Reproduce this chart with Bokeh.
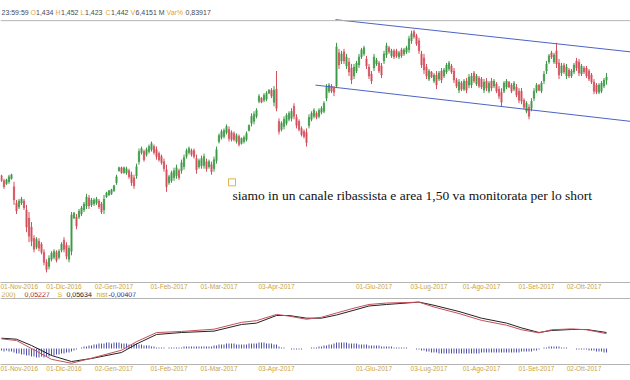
from bokeh.plotting import figure
from bokeh.models import ColumnDataSource, Range1d, FixedTicker, Label, Span
from bokeh.layouts import column
from bokeh.embed import file_html
from bokeh.resources import INLINE

# ---------------- data (daily candles, Nov 2016 - Oct 2017) ----------------
opens = [
    1.197, 1.1845, 1.177, 1.182, 1.1895, 1.1695, 1.1295, 1.1195, 1.1295, 1.1345,
    1.112, 1.092, 1.0695, 1.042, 1.0195, 1.0345, 1.027, 1.007, 0.982, 0.972,
    0.9895, 0.9945, 1.007, 0.9945, 1.012, 1.037, 1.0245, 0.9895, 1.0095, 1.092,
    1.0945, 1.0945, 1.102, 1.112, 1.122, 1.142, 1.1245, 1.127, 1.1295, 1.1345,
    1.127, 1.112, 1.1445, 1.1495, 1.152, 1.1595, 1.1795, 1.2095, 1.217, 1.2045,
    1.2045, 1.2095, 1.1995, 1.192, 1.197, 1.232, 1.2545, 1.257, 1.2495, 1.257,
    1.262, 1.2695, 1.262, 1.252, 1.2445, 1.232, 1.212, 1.1795, 1.1845, 1.192,
    1.197, 1.2095, 1.2095, 1.2195, 1.2445, 1.2545, 1.2595, 1.2595, 1.2395, 1.2195,
    1.222, 1.222, 1.232, 1.2195, 1.2245, 1.2145, 1.2345, 1.282, 1.292, 1.2945,
    1.3045, 1.312, 1.3045, 1.302, 1.282, 1.2945, 1.277, 1.282, 1.287, 1.3095,
    1.327, 1.332, 1.3445, 1.382, 1.3895, 1.3845, 1.387, 1.402, 1.4095, 1.3795,
    1.412, 1.332, 1.312, 1.3195, 1.327, 1.337, 1.3395, 1.3695, 1.342, 1.332,
    1.3145, 1.307, 1.3045, 1.322, 1.337, 1.3445, 1.352, 1.3445, 1.3545, 1.357,
    1.3895, 1.407, 1.4195, 1.4145, 1.4195, 1.502, 1.482, 1.5045, 1.4695, 1.4795,
    1.4645, 1.4445, 1.457, 1.472, 1.492, 1.4995, 1.487, 1.467, 1.4495, 1.4645,
    1.4745, 1.477, 1.4695, 1.482, 1.497, 1.5145, 1.4945, 1.507, 1.507, 1.492,
    1.5095, 1.4995, 1.5045, 1.5095, 1.532, 1.5545, 1.5445, 1.532, 1.4995, 1.4895,
    1.467, 1.437, 1.4545, 1.432, 1.447, 1.437, 1.457, 1.4445, 1.4545, 1.462,
    1.4695, 1.457, 1.4345, 1.4095, 1.427, 1.412, 1.432, 1.422, 1.422, 1.452,
    1.4245, 1.4395, 1.437, 1.4095, 1.432, 1.407, 1.432, 1.4195, 1.4245, 1.412,
    1.4045, 1.407, 1.417, 1.4295, 1.422, 1.412, 1.417, 1.407, 1.407, 1.3845,
    1.357, 1.367, 1.3645, 1.3895, 1.407, 1.422, 1.407, 1.432, 1.457, 1.4795,
    1.502, 1.4795, 1.507, 1.477, 1.452, 1.472, 1.4445, 1.4595, 1.4445, 1.4545,
    1.482, 1.4795, 1.4495, 1.4645, 1.4645, 1.457, 1.447, 1.4295, 1.422, 1.4045,
    1.407, 1.4195, 1.434,
]
highs = [
    1.1995, 1.1895, 1.1895, 1.1995, 1.202, 1.182, 1.137, 1.1395, 1.1445, 1.1395,
    1.1245, 1.107, 1.082, 1.0495, 1.0445, 1.042, 1.032, 1.0145, 0.9895, 0.9995,
    1.0095, 1.0145, 1.012, 1.0145, 1.032, 1.0445, 1.032, 1.0245, 1.107, 1.107,
    1.102, 1.1145, 1.122, 1.132, 1.152, 1.1495, 1.142, 1.142, 1.1445, 1.1395,
    1.132, 1.1495, 1.157, 1.162, 1.1645, 1.1745, 1.1995, 1.2195, 1.2195, 1.2195,
    1.2195, 1.2145, 1.207, 1.1995, 1.227, 1.2645, 1.2695, 1.262, 1.267, 1.2745,
    1.282, 1.2745, 1.2695, 1.257, 1.2495, 1.2395, 1.2245, 1.1995, 1.2095, 1.217,
    1.2245, 1.2145, 1.237, 1.2495, 1.2645, 1.2695, 1.2645, 1.2645, 1.2495, 1.2395,
    1.247, 1.252, 1.2395, 1.237, 1.232, 1.2445, 1.2695, 1.302, 1.312, 1.3145,
    1.3245, 1.3195, 1.3095, 1.307, 1.302, 1.2995, 1.292, 1.297, 1.307, 1.3245,
    1.352, 1.357, 1.3645, 1.3995, 1.392, 1.402, 1.407, 1.412, 1.4145, 1.4195,
    1.457, 1.3395, 1.332, 1.3445, 1.352, 1.357, 1.3645, 1.377, 1.3495, 1.337,
    1.3195, 1.312, 1.3145, 1.3495, 1.357, 1.3645, 1.357, 1.3645, 1.3695, 1.382,
    1.4245, 1.427, 1.4245, 1.4195, 1.527, 1.512, 1.507, 1.512, 1.4995, 1.4895,
    1.4745, 1.4745, 1.482, 1.4995, 1.5145, 1.5195, 1.4945, 1.4745, 1.457, 1.4995,
    1.4895, 1.482, 1.477, 1.507, 1.527, 1.5195, 1.512, 1.512, 1.512, 1.507,
    1.5145, 1.5145, 1.5195, 1.5445, 1.557, 1.5595, 1.5495, 1.5395, 1.507, 1.4995,
    1.4745, 1.462, 1.457, 1.452, 1.457, 1.457, 1.4645, 1.4645, 1.477, 1.482,
    1.4745, 1.4645, 1.4395, 1.437, 1.432, 1.437, 1.4395, 1.4495, 1.452, 1.457,
    1.4495, 1.4445, 1.442, 1.437, 1.4395, 1.432, 1.4395, 1.437, 1.4295, 1.4195,
    1.4145, 1.432, 1.437, 1.432, 1.427, 1.432, 1.4245, 1.4145, 1.4145, 1.3895,
    1.382, 1.3745, 1.3895, 1.4145, 1.427, 1.4245, 1.432, 1.457, 1.482, 1.4995,
    1.507, 1.502, 1.527, 1.487, 1.477, 1.477, 1.4745, 1.4645, 1.462, 1.477,
    1.4895, 1.487, 1.4745, 1.4695, 1.4695, 1.462, 1.452, 1.437, 1.427, 1.427,
    1.432, 1.4395, 1.452,
]
lows = [
    1.182, 1.1645, 1.1745, 1.177, 1.1875, 1.1245, 1.102, 1.1145, 1.1245, 1.112,
    1.057, 1.032, 1.022, 1.007, 1.0145, 1.0095, 1.002, 0.9745, 0.957, 0.9645,
    0.9845, 0.9895, 0.982, 0.9895, 1.007, 1.007, 0.9895, 0.982, 0.9995, 1.0895,
    1.064, 1.0895, 1.097, 1.107, 1.1145, 1.1145, 1.1195, 1.122, 1.1245, 1.1145,
    1.102, 1.102, 1.142, 1.147, 1.1495, 1.157, 1.1745, 1.207, 1.202, 1.202,
    1.1995, 1.1895, 1.172, 1.1645, 1.1895, 1.2245, 1.2495, 1.232, 1.2445, 1.252,
    1.257, 1.2495, 1.237, 1.232, 1.2245, 1.207, 1.157, 1.1745, 1.1795, 1.1845,
    1.1895, 1.187, 1.202, 1.212, 1.2395, 1.2495, 1.2445, 1.2395, 1.202, 1.2145,
    1.2145, 1.2145, 1.207, 1.2145, 1.1995, 1.207, 1.227, 1.277, 1.287, 1.2895,
    1.2995, 1.282, 1.282, 1.282, 1.277, 1.2695, 1.2745, 1.277, 1.282, 1.307,
    1.3195, 1.3245, 1.3395, 1.377, 1.377, 1.3795, 1.382, 1.3995, 1.3895, 1.3695,
    1.357, 1.2995, 1.307, 1.312, 1.322, 1.332, 1.332, 1.337, 1.3145, 1.307,
    1.2945, 1.2895, 1.2695, 1.3145, 1.332, 1.3395, 1.337, 1.3395, 1.3495, 1.352,
    1.382, 1.402, 1.402, 1.3945, 1.4145, 1.462, 1.4745, 1.4745, 1.462, 1.4445,
    1.4245, 1.437, 1.452, 1.4645, 1.487, 1.4945, 1.462, 1.437, 1.4245, 1.457,
    1.4695, 1.452, 1.4395, 1.4745, 1.4895, 1.4995, 1.4895, 1.487, 1.4895, 1.487,
    1.4895, 1.4945, 1.4995, 1.502, 1.5245, 1.537, 1.5195, 1.4995, 1.4645, 1.4495,
    1.437, 1.432, 1.4395, 1.427, 1.412, 1.432, 1.427, 1.4395, 1.4495, 1.457,
    1.4495, 1.427, 1.4145, 1.402, 1.407, 1.407, 1.402, 1.4145, 1.4145, 1.427,
    1.4195, 1.4145, 1.412, 1.402, 1.407, 1.402, 1.407, 1.4145, 1.402, 1.387,
    1.3695, 1.402, 1.412, 1.4145, 1.402, 1.407, 1.392, 1.377, 1.3745, 1.362,
    1.352, 1.337, 1.357, 1.382, 1.402, 1.407, 1.402, 1.4245, 1.4495, 1.4745,
    1.487, 1.4745, 1.4645, 1.437, 1.4445, 1.4495, 1.437, 1.4395, 1.4395, 1.4495,
    1.457, 1.4445, 1.4445, 1.4495, 1.4395, 1.432, 1.4245, 1.3995, 1.3995, 1.3995,
    1.402, 1.4145, 1.423,
]
closes = [
    1.1845, 1.1695, 1.187, 1.1945, 1.1995, 1.137, 1.1095, 1.1345, 1.1395, 1.117,
    1.0695, 1.047, 1.0345, 1.0145, 1.0395, 1.017, 1.007, 0.982, 0.9645, 0.992,
    1.0045, 1.0095, 0.987, 1.0095, 1.027, 1.0145, 0.997, 1.017, 1.0995, 1.1045,
    1.072, 1.1095, 1.117, 1.127, 1.1445, 1.122, 1.137, 1.137, 1.1395, 1.1195,
    1.107, 1.1395, 1.1545, 1.1595, 1.162, 1.172, 1.1945, 1.217, 1.2045, 1.217,
    1.2145, 1.1945, 1.1795, 1.172, 1.2195, 1.257, 1.2645, 1.237, 1.262, 1.2695,
    1.277, 1.2545, 1.2445, 1.237, 1.2295, 1.2145, 1.1695, 1.1945, 1.2045, 1.2095,
    1.217, 1.192, 1.2295, 1.242, 1.2595, 1.2645, 1.2495, 1.2445, 1.212, 1.2345,
    1.2395, 1.2445, 1.2145, 1.232, 1.207, 1.237, 1.262, 1.297, 1.307, 1.3095,
    1.3195, 1.2895, 1.287, 1.287, 1.297, 1.2745, 1.2895, 1.292, 1.302, 1.322,
    1.3445, 1.3495, 1.3595, 1.3945, 1.3795, 1.397, 1.402, 1.4095, 1.3945, 1.4095,
    1.3645, 1.307, 1.327, 1.337, 1.347, 1.352, 1.357, 1.3445, 1.322, 1.312,
    1.2995, 1.2945, 1.2795, 1.342, 1.352, 1.3595, 1.342, 1.3595, 1.3645, 1.377,
    1.417, 1.422, 1.407, 1.4045, 1.517, 1.472, 1.4995, 1.482, 1.492, 1.4545,
    1.4345, 1.467, 1.477, 1.492, 1.5095, 1.5145, 1.4695, 1.4445, 1.432, 1.492,
    1.4845, 1.457, 1.447, 1.4995, 1.5195, 1.5045, 1.507, 1.492, 1.4945, 1.502,
    1.4945, 1.5095, 1.5145, 1.537, 1.5495, 1.542, 1.5245, 1.507, 1.472, 1.4595,
    1.4445, 1.457, 1.442, 1.447, 1.422, 1.452, 1.4345, 1.4595, 1.472, 1.477,
    1.4545, 1.4345, 1.4195, 1.4295, 1.412, 1.432, 1.4095, 1.442, 1.4445, 1.432,
    1.4445, 1.4195, 1.417, 1.4295, 1.4145, 1.427, 1.4145, 1.432, 1.407, 1.3945,
    1.3795, 1.427, 1.432, 1.417, 1.407, 1.427, 1.397, 1.3845, 1.382, 1.367,
    1.377, 1.3445, 1.382, 1.407, 1.422, 1.4095, 1.427, 1.4495, 1.4745, 1.4945,
    1.492, 1.497, 1.4745, 1.447, 1.4695, 1.4545, 1.467, 1.4445, 1.457, 1.472,
    1.4645, 1.452, 1.4695, 1.4545, 1.4445, 1.437, 1.4295, 1.407, 1.4045, 1.422,
    1.427, 1.4345, 1.442,
]
hist = [
    -0.002, -0.003, -0.002, -0.003, -0.003, -0.004,
    -0.005, -0.005, -0.006, -0.006, -0.007, -0.007, -0.008,
    -0.008, -0.009, -0.009, -0.008, -0.009, -0.008, -0.008, -0.007, -0.007, -0.006, -0.006, -0.005, -0.005, -0.004, -0.004,
    -0.003, -0.002, -0.001, 0.000, 0.001, 0.002, 0.002, 0.003,
    0.003, 0.004, 0.004, 0.005, 0.005, 0.005, 0.006, 0.006, 0.005, 0.006, 0.006, 0.006, 0.005, 0.005, 0.005, 0.004, 0.004, 0.005, 0.005, 0.004, 0.004, 0.003, 0.003, 0.003, 0.002,
    0.002, 0.001, 0.001, 0.001, 0.001, 0.000, 0.001, 0.001, 0.001, 0.001, 0.001, 0.001, 0.002, 0.002, 0.002, 0.002, 0.002, 0.002, 0.002, 0.002, 0.002, 0.002, 0.002, 0.002,
    0.003, 0.003, 0.004, 0.004, 0.004, 0.005, 0.005, 0.005, 0.005, 0.004, 0.004, 0.004, 0.004, 0.004, 0.005, 0.005, 0.005, 0.005, 0.006, 0.006, 0.006, 0.005, 0.005, 0.005, 0.004, 0.004,
    0.002, 0.001, 0.001, 0.000, 0.000, -0.001, -0.001, -0.001, -0.001, -0.001, 0.000, 0.000, 0.000, 0.001, 0.001, 0.001, 0.002,
    0.002, 0.003, 0.003, 0.004, 0.004, 0.005, 0.006, 0.006, 0.006, 0.006, 0.006, 0.005, 0.005, 0.005, 0.005, 0.004, 0.004, 0.004, 0.004, 0.003, 0.003, 0.003, 0.003, 0.003, 0.002, 0.002, 0.002, 0.002,
    0.002, 0.001, 0.001, 0.001, 0.001, 0.001, 0.001, 0.000, 0.000, 0.000, -0.001, -0.001,
    -0.002, -0.002, -0.003, -0.003, -0.004, -0.004, -0.004, -0.005, -0.005, -0.005, -0.005, -0.005, -0.005, -0.005, -0.005, -0.005,
    -0.005, -0.005, -0.005, -0.005, -0.005, -0.005, -0.005, -0.005, -0.004, -0.004, -0.004, -0.004, -0.004, -0.004, -0.004, -0.004,
    -0.004, -0.004, -0.004, -0.004, -0.004, -0.004, -0.004, -0.004, -0.003, -0.003, -0.003, -0.003, -0.003, -0.002, -0.002,
    -0.001, 0.000, 0.001, 0.001, 0.002, 0.002, 0.002, 0.002, 0.002, 0.001, 0.001, 0.001,
    0.000, 0.000, 0.000, -0.001, -0.001, -0.001, -0.001, -0.001, -0.002, -0.002, -0.002, -0.003, -0.003, -0.003, -0.004, -0.004,
]

# MACD lines, read at sample sessions (index of candle)
macd_idx = [0, 6, 12, 20, 28, 36, 48, 54, 62, 72, 85, 96, 102, 110, 115, 122,
            128, 134, 141, 147, 154, 167, 173, 183, 192, 202, 208, 215, 220, 228, 234, 242]
signal_line = [0.0363, 0.0327, 0.0106, -0.0246, -0.0458, -0.0352, -0.0141, 0.0158,
               0.0493, 0.0563, 0.0612, 0.0845, 0.0894, 0.1162, 0.1162, 0.1067,
               0.1067, 0.1179, 0.1348, 0.1496, 0.1549, 0.1633, 0.1521, 0.1302,
               0.1067, 0.0894, 0.0725, 0.0563, 0.0634, 0.0669, 0.0669, 0.05634]
macd_line = [0.034, 0.028, 0.000, -0.038, -0.052, -0.034, -0.006, 0.024,
             0.056, 0.060, 0.068, 0.092, 0.098, 0.120, 0.114, 0.103,
             0.110, 0.125, 0.142, 0.155, 0.160, 0.163, 0.146, 0.123,
             0.099, 0.082, 0.066, 0.055, 0.066, 0.069, 0.066, 0.05227]

# trend channel (start / end session, price)
chan_upper_x = [133.6, 251.6]
chan_upper_y = [1.5845, 1.5045]
chan_lower_x = [125.6, 251.6]
chan_lower_y = [1.422, 1.332]

tick_pos = [3, 25, 45, 67, 87, 110, 149, 171, 192, 214, 233]
tick_labels = ["01-Nov-2016", "01-Dic-2016", "02-Gen-2017", "01-Feb-2017", "01-Mar-2017",
               "03-Apr-2017", "01-Giu-2017", "03-Lug-2017", "01-Ago-2017", "01-Set-2017",
               "02-Ott-2017"]

note_text = "siamo in un canale ribassista e area 1,50 va monitorata per lo short"
note_x, note_y = 92.4, 1.147
note_box_x, note_box_y = 92.2, 1.1807

assert len(opens) == len(highs) == len(lows) == len(closes) == len(hist)

# ---------------- styling ----------------
GREEN = "#3e9a47"
RED = "#d4505c"
GOLD = "#c9a443"
ORANGE = "#e3a43a"
SEP = "#b4b4b4"
LBL_FONT = "Liberation Sans"

N = len(closes)
idx = list(range(N))
colors = [GREEN if c >= o else RED for o, c in zip(opens, closes)]
src = ColumnDataSource(dict(
    x=idx, h=highs, l=lows,
    top=[max(o, c) for o, c in zip(opens, closes)],
    bot=[min(o, c) for o, c in zip(opens, closes)],
    color=colors,
))

X0 = -0.4
x_range = Range1d(X0, 251.6)
PX_PER_BAR = 2.5


def px_to_x(px):
    return px / PX_PER_BAR + X0


def style_axis(fig):
    ax = fig.xaxis[0]
    ax.ticker = FixedTicker(ticks=tick_pos)
    ax.major_label_overrides = {t: s for t, s in zip(tick_pos, tick_labels)}
    ax.major_tick_out = 0
    ax.major_tick_in = 0
    ax.minor_tick_out = 0
    ax.minor_tick_in = 0
    ax.axis_line_color = SEP
    ax.major_label_text_color = GOLD
    ax.major_label_text_font = LBL_FONT
    ax.major_label_text_font_size = "6.5px"
    ax.major_label_standoff = 0


# ---------------- price panel ----------------
p = figure(width=630, height=292, output_backend="svg", toolbar_location=None,
           x_range=x_range, y_range=Range1d(0.932, 1.632),
           y_axis_location=None, min_border_left=0, min_border_right=0,
           min_border_top=0, min_border_bottom=10)
p.grid.visible = False
p.outline_line_color = None
p.background_fill_color = "white"
p.border_fill_color = "white"
style_axis(p)

p.add_layout(Span(location=1.582, dimension="width", line_color=SEP, line_width=1))

p.segment(x0="x", y0="h", x1="x", y1="l", line_color="color", line_width=1, source=src)
p.vbar(x="x", width=0.55, top="top", bottom="bot", fill_color="color",
       line_color="color", line_width=0.5, source=src)

p.line(chan_upper_x, chan_upper_y, line_color="#4d63c6", line_width=1)
p.line(chan_lower_x, chan_lower_y, line_color="#4d63c6", line_width=1)

p.scatter([note_box_x], [note_box_y], marker="square", size=7, fill_color=None,
          line_color="#e2b24c", line_width=1)
p.add_layout(Label(x=note_x, y=note_y, text=note_text, text_font="Liberation Serif",
                   text_font_size="13.5px", text_color="#111111",
                   text_baseline="alphabetic"))

# header line: (text, px position, colour)
header_y = 1.602
VAL = "#4a4a4a"
header = [("23:59:59", 1, VAL),
          ("O", 30, ORANGE), ("1,434", 35.5, VAL),
          ("H", 55, ORANGE), ("1,452", 60.5, VAL),
          ("L", 80, ORANGE), ("1,423", 84.5, VAL),
          ("C", 105, ORANGE), ("1,442", 110.5, VAL),
          ("V", 130, ORANGE), ("6,4151 M", 135, VAL),
          ("Var%", 166, ORANGE), ("0,83917", 185, VAL)]
for txt, px, col in header:
    p.add_layout(Label(x=px_to_x(px), y=header_y, text=txt, text_font=LBL_FONT,
                       text_font_size="7px", text_color=col, text_baseline="middle"))

# ---------------- MACD panel ----------------
m = figure(width=630, height=88, output_backend="svg", toolbar_location=None,
           x_range=x_range, y_range=Range1d(-0.0563, 0.1971),
           y_axis_location=None, min_border_left=0, min_border_right=0,
           min_border_top=0, min_border_bottom=16)
m.extra_y_ranges = {"hist": Range1d(-0.016, 0.056)}
m.grid.visible = False
m.outline_line_color = None
m.background_fill_color = "white"
m.border_fill_color = "white"
style_axis(m)

m.add_layout(Span(location=0.176, dimension="width", line_color=SEP, line_width=1))
m.vbar(x=idx, top=hist, bottom=0, width=0.4, fill_color="#5050aa",
       line_color=None, y_range_name="hist")
m.line(macd_idx, signal_line, line_color="#222222", line_width=1)
m.line(macd_idx, macd_line, line_color="#c4505c", line_width=1)

mh_y = 0.190
mheader = [("200)", 1, GOLD), ("0,05227", 24, "#a01e2c"), ("S", 57, GOLD),
           ("0,05634", 66, "#111111"), ("hist", 96, GOLD), ("-0,00407", 108, "#23238a")]
for txt, px, col in mheader:
    m.add_layout(Label(x=px_to_x(px), y=mh_y, text=txt, text_font=LBL_FONT,
                       text_font_size="7px", text_color=col, text_baseline="middle"))

layout = column(p, m, spacing=0)
open("out.html", "w").write(file_html(layout, INLINE))
